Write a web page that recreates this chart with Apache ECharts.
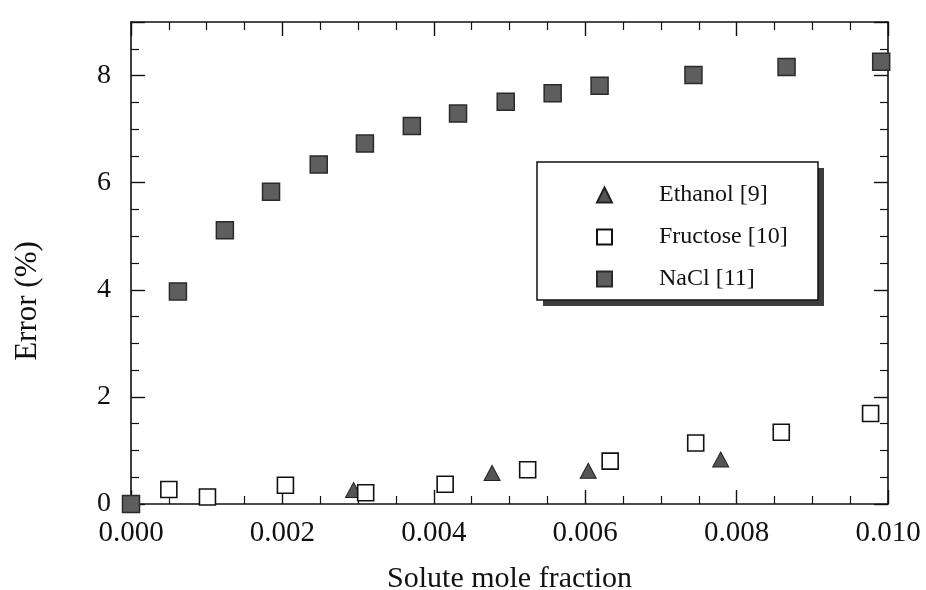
<!DOCTYPE html>
<html>
<head>
<meta charset="utf-8">
<script src="https://cdn.jsdelivr.net/npm/echarts@6/dist/echarts.min.js"></script>
<style>
  html, body { margin: 0; padding: 0; background: #fff; }
  #chart { width: 926px; height: 590px; }
</style>
</head>
<body>
<div id="chart"></div>
<script>
// values: [solute mole fraction, error %]
var ethanol = [
  [0.00294, 0.26], [0.00477, 0.58], [0.00604, 0.62], [0.00779, 0.83]
];
var fructose = [
  [0.00050, 0.27], [0.00101, 0.13], [0.00204, 0.35], [0.00310, 0.21],
  [0.00415, 0.37], [0.00524, 0.64], [0.00633, 0.80], [0.00746, 1.14],
  [0.00859, 1.34], [0.00977, 1.69]
];
var nacl = [
  [0.00000, 0.00], [0.00062, 3.97], [0.00124, 5.11], [0.00185, 5.83],
  [0.00248, 6.34], [0.00309, 6.73], [0.00371, 7.06], [0.00432, 7.29],
  [0.00495, 7.51], [0.00557, 7.67], [0.00619, 7.81], [0.00743, 8.01],
  [0.00866, 8.16], [0.00991, 8.26]
];
var seriesNames = ["Ethanol [9]", "Fructose [10]", "NaCl [11]"];

var font = "'Liberation Serif', 'Times New Roman', serif";
var chartDom = document.getElementById("chart");
var myChart = echarts.init(chartDom, null, { renderer: "canvas" });

var lineStyle = { color: "#111", width: 1.6 };
var tick = { show: true, inside: true, length: 14, lineStyle: { color: "#111", width: 1.4 } };
var minor = { show: true, splitNumber: 4, length: 8, lineStyle: { color: "#111", width: 1.2 } };

var option = {
  animation: false,
  backgroundColor: "#fff",
  grid: { left: 131, right: 38, top: 22, bottom: 86, containLabel: false, outerBoundsMode: "none" },
  // legend frame with its drop shadow
  graphic: [
    {
      type: "rect",
      z: 10,
      shape: { x: 543, y: 168, width: 281, height: 138 },
      style: { fill: "#3c3c3c" }
    },
    {
      type: "rect",
      z: 11,
      shape: { x: 537, y: 162, width: 281, height: 138 },
      style: { fill: "#fff", stroke: "#111", lineWidth: 1.5 }
    }
  ],
  legend: {
    orient: "vertical",
    left: 537,
    top: 162,
    z: 20,
    data: seriesNames,
    itemWidth: 15,
    itemHeight: 15,
    itemGap: 18,
    padding: [21, 10, 20, 59],
    textStyle: {
      fontFamily: font,
      fontSize: 24,
      color: "#111",
      lineHeight: 22,
      padding: [0, 0, 0, 42]
    }
  },
  xAxis: [
    {
      type: "value",
      min: 0,
      max: 0.01,
      interval: 0.002,
      name: "Solute mole fraction",
      nameLocation: "middle",
      nameGap: 60,
      nameTextStyle: { fontFamily: font, fontSize: 30, color: "#111" },
      axisLine: { show: true, onZero: false, lineStyle: lineStyle },
      axisTick: tick,
      minorTick: minor,
      splitLine: { show: false },
      axisLabel: {
        fontFamily: font,
        fontSize: 29,
        color: "#111",
        margin: 15,
        formatter: function (v) { return v.toFixed(3); }
      }
    },
    {
      type: "value",
      position: "top",
      min: 0,
      max: 0.01,
      interval: 0.002,
      axisLine: { show: true, onZero: false, lineStyle: lineStyle },
      axisTick: tick,
      minorTick: minor,
      splitLine: { show: false },
      axisLabel: { show: false }
    }
  ],
  yAxis: [
    {
      type: "value",
      min: 0,
      max: 9,
      interval: 2,
      name: "Error (%)",
      nameLocation: "middle",
      nameGap: 88,
      nameTextStyle: { fontFamily: font, fontSize: 31, color: "#111", padding: [0, 76, 0, 0] },
      axisLine: { show: true, onZero: false, lineStyle: lineStyle },
      axisTick: tick,
      minorTick: minor,
      splitLine: { show: false },
      axisLabel: {
        fontFamily: font,
        fontSize: 28,
        color: "#111",
        margin: 20,
        showMaxLabel: false
      }
    },
    {
      type: "value",
      position: "right",
      min: 0,
      max: 9,
      interval: 2,
      axisLine: { show: true, onZero: false, lineStyle: lineStyle },
      axisTick: tick,
      minorTick: minor,
      splitLine: { show: false },
      axisLabel: { show: false }
    }
  ],
  series: [
    {
      name: seriesNames[0],
      type: "scatter",
      symbol: "triangle",
      symbolSize: [16, 15],
      itemStyle: { color: "#555", borderColor: "#222", borderWidth: 1, opacity: 1 },
      data: ethanol,
      z: 3
    },
    {
      name: seriesNames[1],
      type: "scatter",
      symbol: "rect",
      symbolSize: 16,
      itemStyle: { color: "#fff", borderColor: "#111", borderWidth: 1.6, opacity: 1 },
      data: fructose,
      z: 4
    },
    {
      name: seriesNames[2],
      type: "scatter",
      symbol: "rect",
      symbolSize: 17,
      itemStyle: { color: "#5e5e5e", borderColor: "#2a2a2a", borderWidth: 1.5, opacity: 1 },
      data: nacl,
      z: 5
    }
  ]
};

window.addEventListener("resize", myChart.resize);
option && myChart.setOption(option);
</script>
</body>
</html>
